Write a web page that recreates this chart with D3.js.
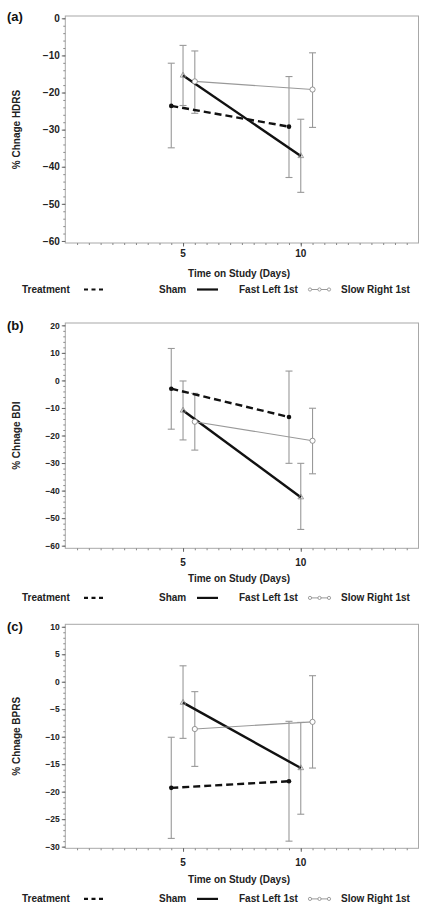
<!DOCTYPE html>
<html>
<head>
<meta charset="utf-8">
<script src="https://cdn.jsdelivr.net/npm/d3@7"></script>
<style>
  html, body { margin: 0; padding: 0; background: #fff; }
  svg { display: block; font-family: "Liberation Sans", Arial, sans-serif; }
</style>
</head>
<body>
<svg id="chart" width="430" height="910"></svg>
<script>
// ---------------- DATA ----------------
const seriesNames = ["Sham", "Fast Left 1st", "Slow Right 1st"];
const days = [5, 10];
const dodge = [-0.5, 0, 0.5];
const xTickLabels = [5, 10];
const legendTitle = "Treatment";
const xTitle = "Time on Study (Days)";

const panelLabels = ["(a)", "(b)", "(c)"];
const yTitles = ["% Chnage HDRS", "% Chnage BDI", "% Chnage BPRS"];

const hdrsTicks = [0, -10, -20, -30, -40, -50, -60];
const bdiTicks = [20, 10, 0, -10, -20, -30, -40, -50, -60];
const bprsTicks = [10, 5, 0, -5, -10, -15, -20, -25, -30];

// mean, lower and upper error per series (rows) and day (cols)
const hdrsMean = [[-23.6, -29.2], [-15.4, -37.1], [-17.0, -19.2]];
const hdrsLow  = [[-34.9, -42.9], [-23.5, -46.9], [-25.6, -29.4]];
const hdrsHigh = [[-12.1, -15.7], [-7.3, -27.2], [-8.8, -9.3]];

const bdiMean = [[-3.0, -13.3], [-10.9, -42.4], [-15.0, -21.9]];
const bdiLow  = [[-17.7, -30.1], [-21.6, -54.1], [-25.3, -33.9]];
const bdiHigh = [[11.6, 3.4], [-0.2, -30.1], [-4.7, -10.1]];

const bprsMean = [[-19.3, -18.1], [-3.8, -15.7], [-8.6, -7.3]];
const bprsLow  = [[-28.5, -29.0], [-10.3, -24.1], [-15.4, -15.7]];
const bprsHigh = [[-10.1, -7.2], [2.9, -7.4], [-1.8, 1.1]];

// ---------------- LAYOUT ----------------
const panels = [
  { mean: hdrsMean, low: hdrsLow, high: hdrsHigh, ticks: hdrsTicks, minorStep: 2,
    top: 16, bottom: 243, yDom: [-60.55, 0.62], tickFont: 10, labelY: 21, xLabY: 257, xTitleY: 276.5, legY: 293 },
  { mean: bdiMean, low: bdiLow, high: bdiHigh, ticks: bdiTicks, minorStep: 2,
    top: 323, bottom: 548.3, yDom: [-60.95, 20.85], tickFont: 8.5, labelY: 330, xLabY: 565.5, xTitleY: 582, legY: 601.4 },
  { mean: bprsMean, low: bprsLow, high: bprsHigh, ticks: bprsTicks, minorStep: 1,
    top: 624.3, bottom: 848.3, yDom: [-30.3, 10.45], tickFont: 8.5, labelY: 631, xLabY: 866, xTitleY: 883, legY: 902.4 }
];

const left = 65.3, right = 418.5;
const frameColor = "#a8a8a8";
const errColor = "#999999";
const svg = d3.select("#chart");

const x = d3.scaleLinear().domain([0, 15]).range([left, right]);

panels.forEach((p, pi) => {
  const g = svg.append("g");
  const y = d3.scaleLinear().domain(p.yDom).range([p.bottom, p.top]);

  // frame
  g.append("rect").attr("x", left).attr("y", p.top)
    .attr("width", right - left).attr("height", p.bottom - p.top)
    .attr("fill", "none").attr("stroke", frameColor).attr("stroke-width", 1);

  // y axis minor ticks
  const yMinor = d3.range(Math.ceil(p.yDom[0] / p.minorStep) * p.minorStep, p.yDom[1] + 0.001, p.minorStep);
  const yAxisMinor = d3.axisLeft(y).tickValues(yMinor).tickSize(2).tickFormat("");
  const gym = g.append("g").attr("transform", `translate(${left},0)`).call(yAxisMinor);
  gym.select(".domain").remove();
  gym.selectAll("line").attr("stroke", "#888");

  // y axis major
  const yAxis = d3.axisLeft(y).tickValues(p.ticks).tickSize(3.5).tickPadding(2)
    .tickFormat(d => d < 0 ? "\u2212" + Math.abs(d) : d);
  const gy = g.append("g").attr("transform", `translate(${left},0)`).call(yAxis);
  gy.select(".domain").remove();
  gy.selectAll("line").attr("stroke", "#666");
  gy.selectAll("text").attr("font-size", p.tickFont).attr("font-weight", "bold")
    .attr("fill", "#222").attr("font-family", "'Liberation Sans', Arial, sans-serif");

  // x axis minor
  const xAxisMinor = d3.axisBottom(x).tickValues(d3.range(0.5, 15, 0.5)).tickSize(2).tickFormat("");
  const gxm = g.append("g").attr("transform", `translate(0,${p.bottom})`).call(xAxisMinor);
  gxm.select(".domain").remove();
  gxm.selectAll("line").attr("stroke", "#888");

  const xAxis = d3.axisBottom(x).tickValues(xTickLabels).tickSize(3.5).tickFormat(d3.format("d"));
  const gx = g.append("g").attr("transform", `translate(0,${p.bottom})`).call(xAxis);
  gx.select(".domain").remove();
  gx.selectAll("line").attr("stroke", "#666");
  gx.selectAll("text").remove();
  g.selectAll(".xl").data(xTickLabels).enter().append("text")
    .attr("x", d => x(d)).attr("y", p.xLabY).attr("text-anchor", "middle")
    .attr("font-size", 10).attr("font-weight", "bold").attr("fill", "#222").text(d => d);

  // panel label
  g.append("text").attr("x", 7).attr("y", p.labelY).attr("font-size", 13)
    .attr("font-weight", "bold").attr("fill", "#111").text(panelLabels[pi]);

  // y title
  g.append("text").attr("transform", `translate(20,${(p.top + p.bottom) / 2}) rotate(-90)`)
    .attr("text-anchor", "middle").attr("font-size", 10).attr("font-weight", "bold")
    .attr("fill", "#222").text(yTitles[pi]);

  // x title
  g.append("text").attr("x", 239).attr("y", p.xTitleY).attr("text-anchor", "middle")
    .attr("font-size", 10).attr("font-weight", "bold").attr("fill", "#222").text(xTitle);

  // error bars
  seriesNames.forEach((s, si) => {
    days.forEach((d, di) => {
      const cx = x(d + dodge[si]);
      const y1 = y(p.low[si][di]), y2 = y(p.high[si][di]);
      g.append("line").attr("x1", cx).attr("x2", cx).attr("y1", y1).attr("y2", y2)
        .attr("stroke", errColor).attr("stroke-width", 1.1);
      [y1, y2].forEach(yy => g.append("line").attr("x1", cx - 3.5).attr("x2", cx + 3.5)
        .attr("y1", yy).attr("y2", yy).attr("stroke", errColor).attr("stroke-width", 1.1));
    });
  });

  // lines
  const line = d3.line().x(d => x(d[0])).y(d => y(d[1]));
  seriesNames.forEach((s, si) => {
    const pts = days.map((d, di) => [d + dodge[si], p.mean[si][di]]);
    const path = g.append("path").datum(pts).attr("d", line).attr("fill", "none");
    if (si === 0) path.attr("stroke", "#111").attr("stroke-width", 2.4).attr("stroke-dasharray", "7,4");
    else if (si === 1) path.attr("stroke", "#111").attr("stroke-width", 2.4);
    else path.attr("stroke", "#999").attr("stroke-width", 1.1);

    pts.forEach(pt => {
      const cx = x(pt[0]), cy = y(pt[1]);
      if (si === 0) g.append("circle").attr("cx", cx).attr("cy", cy).attr("r", 2.3).attr("fill", "#111");
      else if (si === 1) g.append("path").attr("d", d3.symbol().type(d3.symbolTriangle).size(14)())
        .attr("transform", `translate(${cx},${cy})`).attr("fill", "none").attr("stroke", "#888").attr("stroke-width", 0.8);
      else g.append("circle").attr("cx", cx).attr("cy", cy).attr("r", 2.6).attr("fill", "#fff")
        .attr("stroke", "#888").attr("stroke-width", 0.9);
    });
  });

  // legend
  const ly = p.legY;
  const lg = g.append("g").attr("font-size", 10).attr("font-weight", "bold").attr("fill", "#222");
  lg.append("text").attr("x", 22).attr("y", ly).text(legendTitle);
  const sy = ly - 3.5;
  lg.append("line").attr("x1", 84).attr("x2", 106).attr("y1", sy).attr("y2", sy)
    .attr("stroke", "#111").attr("stroke-width", 2.2).attr("stroke-dasharray", "4,3.5");
  lg.append("text").attr("x", 159).attr("y", ly).text(seriesNames[0]);
  lg.append("line").attr("x1", 197).attr("x2", 218).attr("y1", sy).attr("y2", sy)
    .attr("stroke", "#111").attr("stroke-width", 2.2);
  lg.append("text").attr("x", 239).attr("y", ly).text(seriesNames[1]);
  lg.append("line").attr("x1", 309).attr("x2", 330).attr("y1", sy).attr("y2", sy)
    .attr("stroke", "#999").attr("stroke-width", 1);
  [310, 319.5, 329].forEach(cx => lg.append("circle").attr("cx", cx).attr("cy", sy).attr("r", 1.6)
    .attr("fill", "#fff").attr("stroke", "#888").attr("stroke-width", 0.8));
  lg.append("text").attr("x", 341).attr("y", ly).text(seriesNames[2]);
});
</script>
</body>
</html>
